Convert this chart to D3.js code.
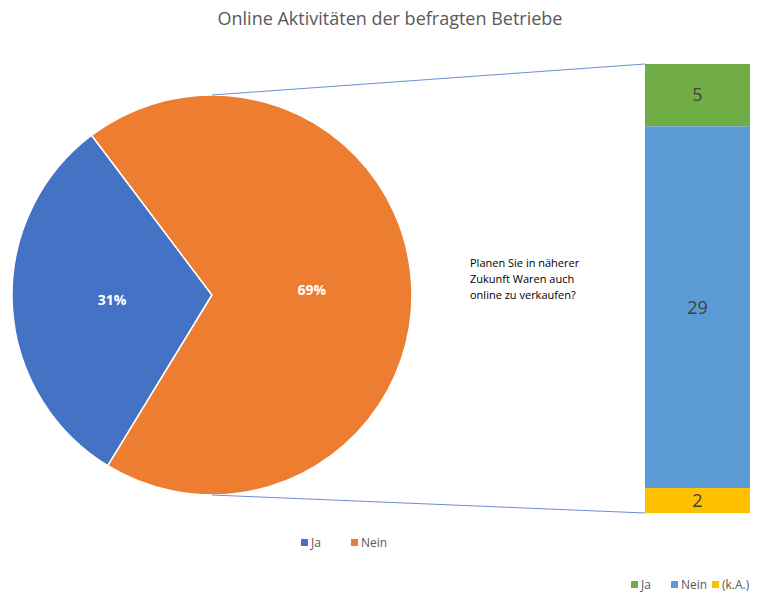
<!DOCTYPE html>
<html>
<head>
<meta charset="utf-8">
<script src="https://cdn.jsdelivr.net/npm/d3@7"></script>
<style>
  body { margin: 0; background: #fff; }
  svg { font-family: "Open Sans", "Liberation Sans", sans-serif; }
</style>
</head>
<body>
<div id="chart"></div>
<script>
let chart_title = "Online Aktivitäten der befragten Betriebe";
let pie_labels = ["Ja", "Nein"];
let pie_values = [31, 69];
let pie_colors = ["#4472C4", "#ED7D31"];
let bar_labels = ["Ja", "Nein", "(k.A.)"];
let bar_values = [5, 29, 2];
let bar_colors = ["#70AD47", "#5B9BD5", "#FFC000"];
let question_lines = ["Planen Sie in näherer", "Zukunft Waren auch", "online zu verkaufen?"];

let width = 771, height = 595;
let svg = d3.select("#chart").append("svg")
  .attr("width", width)
  .attr("height", height);

// title
svg.append("text")
  .attr("x", 390).attr("y", 25)
  .attr("text-anchor", "middle")
  .attr("font-size", 18)
  .attr("fill", "#595959")
  .text(chart_title);

// pie
let cx = 212, cy = 295, radius = 200;
let startDeg = 211.4;
let pie = d3.pie().sort(null)
  .startAngle(startDeg * Math.PI / 180)
  .endAngle(startDeg * Math.PI / 180 + 2 * Math.PI);
let arc = d3.arc().innerRadius(0).outerRadius(radius);
let arcs = pie(pie_values);

let g_pie = svg.append("g").attr("transform", "translate(" + cx + "," + cy + ")");
g_pie.selectAll("path")
  .data(arcs).enter().append("path")
  .attr("d", arc)
  .attr("fill", (d, i) => pie_colors[i])
  .attr("stroke", "#fff")
  .attr("stroke-width", 1.5);

g_pie.selectAll(".pie-label")
  .data(arcs).enter().append("text")
  .attr("class", "pie-label")
  .attr("transform", d => "translate(" + arc.centroid(d) + ")")
  .attr("dy", "0.35em")
  .attr("text-anchor", "middle")
  .attr("font-size", 14)
  .attr("font-weight", "bold")
  .attr("fill", "#fff")
  .text(d => d.data + "%");

// stacked bar
let barX = 645, barW = 105;
let total = d3.sum(bar_values);
let y = d3.scaleLinear().domain([0, total]).range([64, 513]);
let stack = [];
let acc = 0;
bar_values.forEach(function(v, i) {
  stack.push({ v: v, y0: acc, y1: acc + v, i: i });
  acc += v;
});

// connector lines
svg.append("line")
  .attr("x1", cx).attr("y1", cy - radius)
  .attr("x2", barX).attr("y2", y(0))
  .attr("stroke", "#4472C4").attr("stroke-width", 0.8);
svg.append("line")
  .attr("x1", cx).attr("y1", cy + radius)
  .attr("x2", barX).attr("y2", y(total))
  .attr("stroke", "#4472C4").attr("stroke-width", 0.8);

svg.selectAll(".bar")
  .data(stack).enter().append("rect")
  .attr("class", "bar")
  .attr("x", barX)
  .attr("width", barW)
  .attr("y", d => y(d.y0))
  .attr("height", d => y(d.y1) - y(d.y0))
  .attr("fill", d => bar_colors[d.i]);

svg.selectAll(".bar-label")
  .data(stack).enter().append("text")
  .attr("class", "bar-label")
  .attr("x", barX + barW / 2)
  .attr("y", d => (y(d.y0) + y(d.y1)) / 2)
  .attr("dy", "0.35em")
  .attr("text-anchor", "middle")
  .attr("font-size", 18)
  .attr("fill", "#404040")
  .text(d => d.v);

// question text
svg.selectAll(".question")
  .data(question_lines).enter().append("text")
  .attr("class", "question")
  .attr("x", 470)
  .attr("y", (d, i) => 267 + i * 16)
  .attr("font-size", 11)
  .attr("fill", "#000")
  .text(d => d);

// legends
function legend(labels, colors, xs, ly) {
  let g = svg.append("g");
  labels.forEach(function(l, i) {
    g.append("rect")
      .attr("x", xs[i]).attr("y", ly - 4)
      .attr("width", 7).attr("height", 7)
      .attr("fill", colors[i]);
    g.append("text")
      .attr("x", xs[i] + 10).attr("y", ly)
      .attr("dy", "0.35em")
      .attr("font-size", 12)
      .attr("fill", "#595959")
      .text(l);
  });
}
legend(pie_labels, pie_colors, [301, 351], 543);
legend(bar_labels, bar_colors, [631, 671, 712], 585);
</script>
</body>
</html>
